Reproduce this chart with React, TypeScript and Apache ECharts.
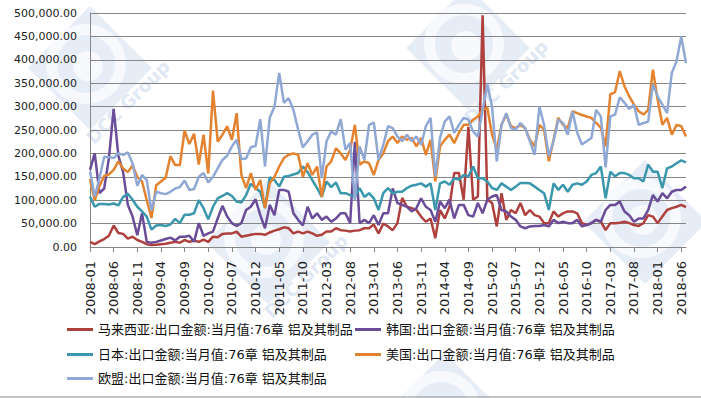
import React, { useEffect, useRef } from "react";
import * as echarts from "echarts";

// Monthly categories 2008-01 .. 2018-07
const START_YEAR = 2008;
const MONTH_COUNT = 127;
const months: string[] = [];
for (let i = 0; i < MONTH_COUNT; i++) {
  const y = START_YEAR + Math.floor(i / 12);
  const m = (i % 12) + 1;
  months.push(`${y}-${m < 10 ? "0" + m : m}`);
}

// Values in thousands
const malaysiaK = [
  11, 6, 12, 17, 24, 46, 30, 28, 18, 22, 15, 11, 6, 4, 5, 6, 7, 9, 11, 9,
  15, 11, 14, 11, 16, 11, 22, 21, 28, 29, 29, 33, 22, 24, 26, 28, 28, 26, 31, 35,
  38, 42, 40, 29, 33, 29, 33, 29, 24, 26, 33, 33, 40, 36, 35, 33, 35, 36, 40, 40,
  48, 29, 50, 44, 36, 51, 105, 86, 83, 79, 65, 54, 61, 19, 79, 61, 86, 158, 158, 101,
  257, 101, 108, 495, 101, 94, 44, 115, 58, 79, 72, 94, 68, 79, 68, 65, 51, 51, 76, 65,
  72, 76, 76, 72, 51, 47, 51, 58, 54, 36, 51, 51, 52, 54, 51, 47, 45, 51, 68, 65,
  51, 65, 79, 83, 86, 90, 85,
];
const koreaK = [
  165, 200, 115, 125, 190, 295, 195, 160, 90, 65, 25, 72, 11, 9, 11, 14, 17, 20, 14, 22,
  22, 24, 11, 51, 24, 29, 33, 61, 88, 65, 51, 45, 51, 79, 86, 102, 68, 40, 90, 68,
  122, 122, 118, 72, 58, 46, 86, 61, 72, 58, 65, 54, 61, 72, 72, 51, 225, 51, 58, 51,
  68, 47, 72, 72, 125, 94, 90, 86, 76, 83, 104, 86, 79, 54, 97, 83, 101, 61, 90, 90,
  68, 65, 94, 72, 101, 108, 111, 79, 76, 65, 58, 44, 40, 44, 45, 45, 47, 44, 58, 51,
  54, 51, 51, 58, 44, 47, 51, 58, 54, 79, 90, 90, 97, 76, 68, 54, 61, 61, 79, 111,
  97, 115, 104, 118, 122, 122, 129,
];
const japanK = [
  108, 86, 92, 92, 91, 93, 89, 107, 114, 101, 86, 76, 65, 37, 46, 47, 45, 48, 60, 51,
  69, 69, 72, 100, 83, 59, 86, 104, 109, 115, 109, 97, 95, 111, 135, 126, 118, 83, 149, 143,
  129, 150, 152, 155, 158, 172, 160, 143, 126, 107, 140, 128, 138, 115, 115, 111, 107, 126, 107, 115,
  104, 79, 115, 126, 115, 118, 118, 126, 131, 133, 136, 129, 136, 79, 136, 140, 133, 147, 144, 154,
  151, 172, 147, 147, 140, 126, 122, 136, 129, 122, 129, 137, 137, 136, 129, 122, 115, 79, 136, 122,
  133, 118, 133, 136, 133, 140, 154, 158, 172, 104, 161, 151, 158, 158, 154, 147, 147, 140, 176, 161,
  161, 126, 168, 172, 179, 185, 181,
];
const usaK = [
  145, 100, 130, 152, 155, 165, 183, 168, 160, 174, 150, 140, 100, 62, 132, 140, 148, 194, 175, 175,
  249, 220, 242, 176, 240, 157, 334, 225, 240, 258, 229, 286, 154, 126, 158, 122, 143, 83, 136, 150,
  172, 190, 197, 200, 197, 150, 179, 154, 172, 107, 172, 183, 211, 200, 186, 208, 261, 176, 183, 179,
  154, 186, 200, 226, 236, 222, 236, 229, 233, 215, 233, 197, 229, 140, 215, 229, 240, 222, 244, 261,
  261, 272, 279, 293, 297, 240, 208, 261, 283, 258, 254, 261, 254, 229, 215, 261, 251, 183, 229, 276,
  261, 254, 290, 286, 282, 279, 276, 265, 255, 215, 326, 331, 376, 343, 322, 304, 290, 283, 293, 379,
  315, 261, 276, 240, 261, 258, 236,
];
const euK = [
  162, 108, 147, 193, 192, 190, 200, 197, 202, 179, 131, 154, 143, 78, 118, 115, 113, 118, 125, 128,
  142, 122, 124, 150, 158, 138, 150, 168, 186, 195, 215, 229, 188, 189, 213, 216, 273, 172, 276, 300,
  372, 308, 318, 293, 251, 213, 226, 240, 245, 147, 226, 247, 240, 273, 208, 222, 100, 215, 186, 261,
  266, 186, 218, 258, 254, 236, 226, 240, 226, 236, 218, 258, 276, 151, 233, 268, 279, 244, 261, 276,
  272, 247, 236, 293, 347, 300, 183, 261, 286, 254, 251, 265, 254, 226, 197, 300, 261, 194, 226, 272,
  265, 240, 290, 244, 219, 226, 233, 293, 279, 170, 279, 283, 320, 308, 295, 304, 261, 265, 268, 348,
  322, 304, 286, 372, 397, 450, 393,
];
const UNIT = 1000;

const seriesNames = [
  "马来西亚:出口金额:当月值:76章 铝及其制品",
  "韩国:出口金额:当月值:76章 铝及其制品",
  "日本:出口金额:当月值:76章 铝及其制品",
  "美国:出口金额:当月值:76章 铝及其制品",
  "欧盟:出口金额:当月值:76章 铝及其制品",
];
const seriesValues = [malaysiaK, koreaK, japanK, usaK, euK];
const seriesColors = ["#AE403D", "#6A4C98", "#3A97AC", "#E3832F", "#8FA8D4"];

const yTicks = { min: 0, max: 500000, interval: 50000 };
const legendSlots = [
  { left: 67, top: 323 },
  { left: 355, top: 323 },
  { left: 67, top: 348 },
  { left: 355, top: 348 },
  { left: 67, top: 372 },
];

// watermark centres (decoration); last flag: show the caption
const watermarkSpots: [number, number, boolean][] = [
  [90, 68, true],
  [468, 48, true],
  [268, 242, true],
  [645, 222, false],
  [445, 415, false],
];
const WATERMARK_TEXT = "DCC Group";

const FONT = "DejaVu Sans, Noto Sans CJK SC, sans-serif";

function watermark(cx: number, cy: number, caption: boolean) {
  const h = 62;
  const children: any[] = [
    {
      type: "polygon",
      shape: { points: [[0, -h], [h, 0], [0, h], [-h, 0]] },
      style: { fill: "#e6edf7" },
      z: -10,
    },
    {
      type: "ring",
      shape: { cx: -4, cy: -4, r: 40, r0: 29 },
      style: { fill: "#f7f9fd" },
      z: -9,
    },
    {
      type: "circle",
      shape: { cx: -2, cy: -2, r: 15 },
      style: { fill: "#f7f9fd" },
      z: -9,
    },
  ];
  if (caption) {
    children.push({
      type: "text",
      x: 38,
      y: 34,
      rotation: Math.PI / 4,
      z: -9,
      style: {
        text: WATERMARK_TEXT,
        fill: "#dfe8f3",
        font: "bold 18px DejaVu Sans, sans-serif",
        align: "center",
        verticalAlign: "middle",
      },
    });
  }
  return { type: "group", x: cx, y: cy, z: -10, silent: true, children };
}

export default function App() {
  const ref = useRef<HTMLDivElement>(null);
  useEffect(() => {
    if (!ref.current) return;
    const chart = echarts.init(ref.current, null, { renderer: "svg" });
    const gray = "#868686";
    chart.setOption({
      animation: false,
      backgroundColor: "#ffffff",
      textStyle: { fontFamily: FONT },
      grid: { left: 90, right: 15, top: 13, bottom: 151, containLabel: false },
      legend: seriesNames.map((n, i) => ({
        data: [n],
        left: legendSlots[i].left,
        top: legendSlots[i].top,
        padding: 0,
        icon: "rect",
        itemWidth: 26,
        itemHeight: 3,
        textStyle: { fontSize: 13, color: "#111", fontFamily: FONT },
      })),
      xAxis: {
        type: "category",
        data: months,
        boundaryGap: false,
        axisLine: { lineStyle: { color: gray, width: 1 } },
        axisTick: { show: true, interval: 4, length: 5, lineStyle: { color: gray } },
        axisLabel: {
          interval: 4,
          rotate: 90,
          fontSize: 13,
          margin: 14,
          color: "#222",
          fontFamily: FONT,
        },
        splitLine: { show: false },
      },
      yAxis: {
        type: "value",
        min: yTicks.min,
        max: yTicks.max,
        interval: yTicks.interval,
        axisLine: { show: true, lineStyle: { color: gray, width: 1 } },
        axisTick: { show: false },
        splitLine: { show: true, lineStyle: { color: gray, width: 1 } },
        axisLabel: {
          fontSize: 11,
          color: "#222",
          margin: 13,
          fontFamily: FONT,
          formatter: (v: number) =>
            v.toLocaleString("en-US", { minimumFractionDigits: 2, maximumFractionDigits: 2 }),
        },
      },
      series: seriesNames.map((n, i) => ({
        name: n,
        type: "line",
        data: seriesValues[i].map((v) => v * UNIT),
        showSymbol: false,
        symbol: "none",
        lineStyle: { width: 2.5, color: seriesColors[i] },
        itemStyle: { color: seriesColors[i] },
      })),
      graphic: [
        ...watermarkSpots.map(([x, y, c]) => watermark(x, y, c)),
        {
          type: "line",
          shape: { x1: 0, y1: 397, x2: 701, y2: 397 },
          style: { stroke: "#8c8c8c", lineWidth: 1 },
        },
      ],
    });
    return () => chart.dispose();
  }, []);
  return (
    <div
      ref={ref}
      style={{ position: "fixed", left: 0, top: 0, width: 701, height: 398, background: "#fff" }}
    />
  );
}
